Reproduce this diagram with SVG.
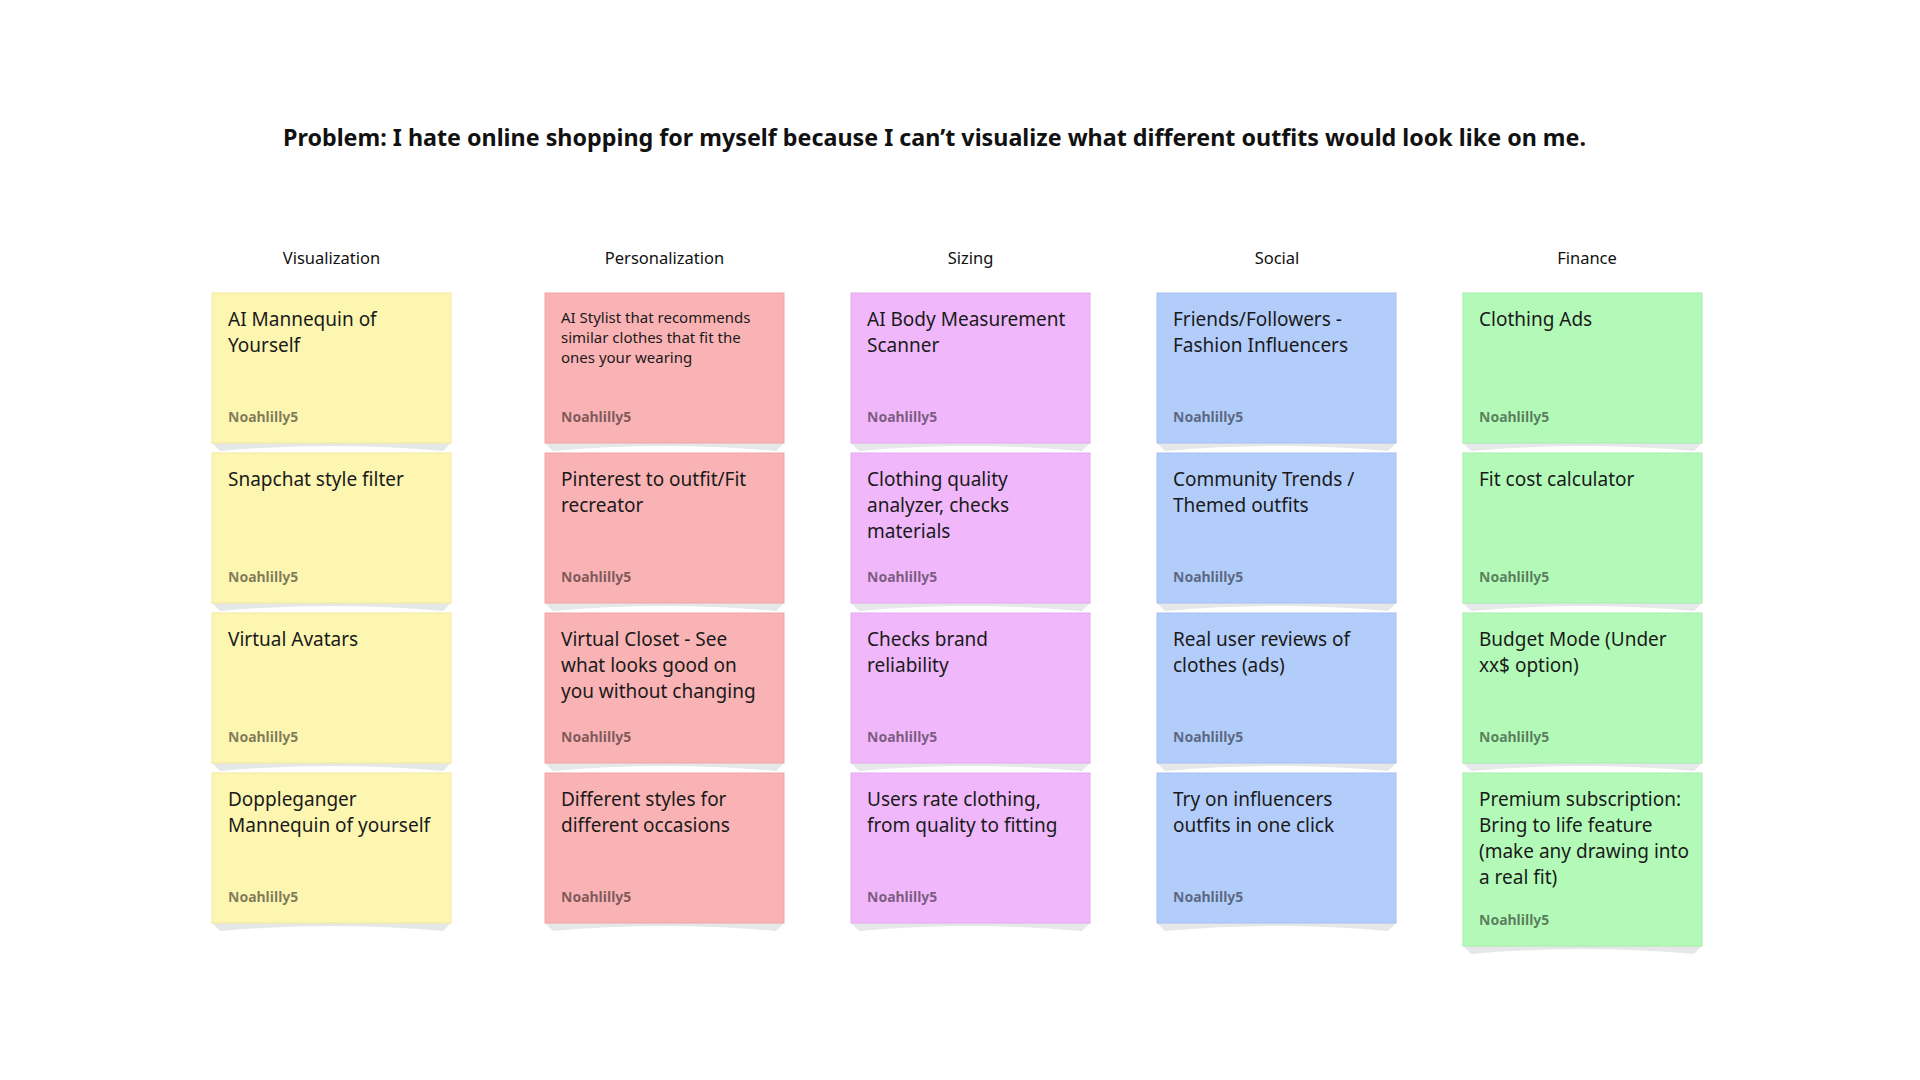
<svg xmlns="http://www.w3.org/2000/svg" width="1920" height="1080" viewBox="0 0 1920 1080">
<style>
.title{font-family:"Noto Sans","Open Sans","Liberation Sans",sans-serif;font-weight:700;font-size:24px;fill:#111}
.hdr{font-family:"Noto Sans","Open Sans","Liberation Sans",sans-serif;font-size:16.5px;fill:#111;text-anchor:middle}
.t{font-family:"Noto Sans","Open Sans","Liberation Sans",sans-serif;font-size:19px;fill:#1a1a1a}
.ts{font-family:"Noto Sans","Open Sans","Liberation Sans",sans-serif;font-size:15px;fill:#1a1a1a}
.a{font-family:"Noto Sans","Open Sans","Liberation Sans",sans-serif;font-size:14px;font-weight:700;fill:#000;fill-opacity:0.5}
.sh{fill:#e6e7e9}
.y{fill:#fdf6b1;stroke:#f3eaa0;stroke-width:1}
.r{fill:#fab3b5;stroke:#f0a5a8;stroke-width:1}
.p{fill:#f0b8fa;stroke:#e6aaf0;stroke-width:1}
.b{fill:#b3cdfb;stroke:#a5c0f0;stroke-width:1}
.g{fill:#b3fab8;stroke:#a3eeaa;stroke-width:1}
</style>
<defs>
<path id="shd" class="sh" d="M0,150 L239,150 L231,158 Q119.5,148 8,158 Z"/>
<path id="shd2" class="sh" d="M0,173 L239,173 L231,181 Q119.5,171 8,181 Z"/>
</defs>
<rect width="1920" height="1080" fill="#fff"/>
<text class="title" x="283" y="146" textLength="1303" lengthAdjust="spacingAndGlyphs">Problem: I hate online shopping for myself because I can’t visualize what different outfits would look like on me.</text>

<g id="headers">
<text class="hdr" x="331.5" y="264">Visualization</text>
<text class="hdr" x="664.5" y="264">Personalization</text>
<text class="hdr" x="970.5" y="264">Sizing</text>
<text class="hdr" x="1277" y="264">Social</text>
<text class="hdr" x="1587" y="264">Finance</text>
</g>

<g id="connectors"></g>

<!-- Visualization -->
<g id="v1" transform="translate(212,293)"><use href="#shd"/><rect class="y" width="239" height="150"/><text class="t" x="16" y="33"><tspan x="16">AI Mannequin of</tspan><tspan x="16" dy="26">Yourself</tspan></text><text class="a" x="16" y="129">Noahlilly5</text></g>
<g id="v2" transform="translate(212,453)"><use href="#shd"/><rect class="y" width="239" height="150"/><text class="t" x="16" y="33">Snapchat style filter</text><text class="a" x="16" y="129">Noahlilly5</text></g>
<g id="v3" transform="translate(212,613)"><use href="#shd"/><rect class="y" width="239" height="150"/><text class="t" x="16" y="33">Virtual Avatars</text><text class="a" x="16" y="129">Noahlilly5</text></g>
<g id="v4" transform="translate(212,773)"><use href="#shd"/><rect class="y" width="239" height="150"/><text class="t" x="16" y="33"><tspan x="16">Doppleganger</tspan><tspan x="16" dy="26">Mannequin of yourself</tspan></text><text class="a" x="16" y="129">Noahlilly5</text></g>

<!-- Personalization -->
<g id="p1" transform="translate(545,293)"><use href="#shd"/><rect class="r" width="239" height="150"/><text class="ts" x="16" y="30"><tspan x="16">AI Stylist that recommends</tspan><tspan x="16" dy="20">similar clothes that fit the</tspan><tspan x="16" dy="20">ones your wearing</tspan></text><text class="a" x="16" y="129">Noahlilly5</text></g>
<g id="p2" transform="translate(545,453)"><use href="#shd"/><rect class="r" width="239" height="150"/><text class="t" x="16" y="33"><tspan x="16">Pinterest to outfit/Fit</tspan><tspan x="16" dy="26">recreator</tspan></text><text class="a" x="16" y="129">Noahlilly5</text></g>
<g id="p3" transform="translate(545,613)"><use href="#shd"/><rect class="r" width="239" height="150"/><text class="t" x="16" y="33"><tspan x="16">Virtual Closet - See</tspan><tspan x="16" dy="26">what looks good on</tspan><tspan x="16" dy="26">you without changing</tspan></text><text class="a" x="16" y="129">Noahlilly5</text></g>
<g id="p4" transform="translate(545,773)"><use href="#shd"/><rect class="r" width="239" height="150"/><text class="t" x="16" y="33"><tspan x="16">Different styles for</tspan><tspan x="16" dy="26">different occasions</tspan></text><text class="a" x="16" y="129">Noahlilly5</text></g>

<!-- Sizing -->
<g id="s1" transform="translate(851,293)"><use href="#shd"/><rect class="p" width="239" height="150"/><text class="t" x="16" y="33"><tspan x="16">AI Body Measurement</tspan><tspan x="16" dy="26">Scanner</tspan></text><text class="a" x="16" y="129">Noahlilly5</text></g>
<g id="s2" transform="translate(851,453)"><use href="#shd"/><rect class="p" width="239" height="150"/><text class="t" x="16" y="33"><tspan x="16">Clothing quality</tspan><tspan x="16" dy="26">analyzer, checks</tspan><tspan x="16" dy="26">materials</tspan></text><text class="a" x="16" y="129">Noahlilly5</text></g>
<g id="s3" transform="translate(851,613)"><use href="#shd"/><rect class="p" width="239" height="150"/><text class="t" x="16" y="33"><tspan x="16">Checks brand</tspan><tspan x="16" dy="26">reliability</tspan></text><text class="a" x="16" y="129">Noahlilly5</text></g>
<g id="s4" transform="translate(851,773)"><use href="#shd"/><rect class="p" width="239" height="150"/><text class="t" x="16" y="33"><tspan x="16">Users rate clothing,</tspan><tspan x="16" dy="26">from quality to fitting</tspan></text><text class="a" x="16" y="129">Noahlilly5</text></g>

<!-- Social -->
<g id="c1" transform="translate(1157,293)"><use href="#shd"/><rect class="b" width="239" height="150"/><text class="t" x="16" y="33"><tspan x="16">Friends/Followers -</tspan><tspan x="16" dy="26">Fashion Influencers</tspan></text><text class="a" x="16" y="129">Noahlilly5</text></g>
<g id="c2" transform="translate(1157,453)"><use href="#shd"/><rect class="b" width="239" height="150"/><text class="t" x="16" y="33"><tspan x="16">Community Trends /</tspan><tspan x="16" dy="26">Themed outfits</tspan></text><text class="a" x="16" y="129">Noahlilly5</text></g>
<g id="c3" transform="translate(1157,613)"><use href="#shd"/><rect class="b" width="239" height="150"/><text class="t" x="16" y="33"><tspan x="16">Real user reviews of</tspan><tspan x="16" dy="26">clothes (ads)</tspan></text><text class="a" x="16" y="129">Noahlilly5</text></g>
<g id="c4" transform="translate(1157,773)"><use href="#shd"/><rect class="b" width="239" height="150"/><text class="t" x="16" y="33"><tspan x="16">Try on influencers</tspan><tspan x="16" dy="26">outfits in one click</tspan></text><text class="a" x="16" y="129">Noahlilly5</text></g>

<!-- Finance -->
<g id="f1" transform="translate(1463,293)"><use href="#shd"/><rect class="g" width="239" height="150"/><text class="t" x="16" y="33">Clothing Ads</text><text class="a" x="16" y="129">Noahlilly5</text></g>
<g id="f2" transform="translate(1463,453)"><use href="#shd"/><rect class="g" width="239" height="150"/><text class="t" x="16" y="33">Fit cost calculator</text><text class="a" x="16" y="129">Noahlilly5</text></g>
<g id="f3" transform="translate(1463,613)"><use href="#shd"/><rect class="g" width="239" height="150"/><text class="t" x="16" y="33"><tspan x="16">Budget Mode (Under</tspan><tspan x="16" dy="26">xx$ option)</tspan></text><text class="a" x="16" y="129">Noahlilly5</text></g>
<g id="f4" transform="translate(1463,773)"><use href="#shd2"/><rect class="g" width="239" height="173"/><text class="t" x="16" y="33"><tspan x="16">Premium subscription:</tspan><tspan x="16" dy="26">Bring to life feature</tspan><tspan x="16" dy="26">(make any drawing into</tspan><tspan x="16" dy="26">a real fit)</tspan></text><text class="a" x="16" y="152">Noahlilly5</text></g>
</svg>
